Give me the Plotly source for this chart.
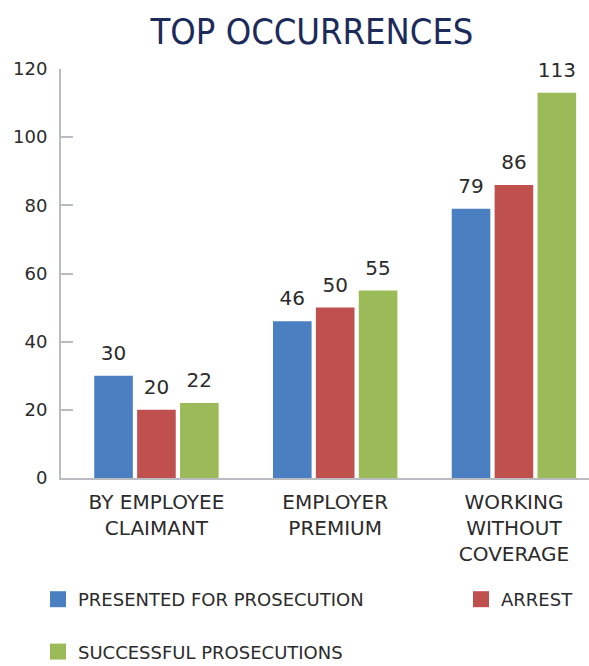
import plotly.graph_objects as go

# ---- data ----
categories = ["BY EMPLOYEE<br>CLAIMANT", "EMPLOYER<br>PREMIUM", "WORKING<br>WITHOUT<br>COVERAGE"]
series_names = ["PRESENTED FOR PROSECUTION", "ARREST", "SUCCESSFUL PROSECUTIONS"]
presented = [30, 46, 79]
arrest = [20, 50, 86]
successful = [22, 55, 113]
y_ticks = [0, 20, 40, 60, 80, 100, 120]
title_text = "TOP OCCURRENCES"

colors = ["#4a80c1", "#c0504d", "#9bbb59"]
legend_ids = ["legend", "legend2", "legend"]
series_values = [presented, arrest, successful]

AXIS_COLOR = "#b9bcc0"
TEXT_COLOR = "#2b2b2b"
FONT = "DejaVu Sans, sans-serif"

fig = go.Figure()

for i, (name, vals, color, lg) in enumerate(zip(series_names, series_values, colors, legend_ids)):
    og = f"g{i}"
    fig.add_trace(go.Bar(
        x=categories, y=vals, name=name, marker=dict(color=color, line=dict(width=0)),
        offsetgroup=og, showlegend=False, hoverinfo="x+y+name",
    ))
    fig.add_trace(go.Scatter(
        x=categories, y=vals, mode="markers+text", text=[str(v) for v in vals],
        textposition="top center", textfont=dict(family=FONT, size=20, color=TEXT_COLOR),
        marker=dict(size=16, opacity=0), offsetgroup=og, showlegend=False,
        hoverinfo="skip", cliponaxis=False,
    ))
    fig.add_trace(go.Scatter(
        x=[None], y=[None], mode="markers", name=name,
        marker=dict(symbol="square", size=16, color=color),
        offsetgroup=og, legend=lg, legendgroup=name, showlegend=True, hoverinfo="skip",
    ))

PLOT_BOTTOM, PLOT_H, PLOT_L, PLOT_W = 478, 409, 61, 528
legend_top = (PLOT_BOTTOM - 581) / PLOT_H

fig.update_layout(
    width=589, height=666,
    margin=dict(l=61, r=0, t=69, b=188, autoexpand=False),
    paper_bgcolor="white", plot_bgcolor="white",
    barmode="group", bargap=0.28, bargroupgap=0.1,
    scattermode="group", scattergap=0.28,
    font=dict(family=FONT, color=TEXT_COLOR),
    title=dict(
        text=title_text, xref="container", x=312 / 589, xanchor="center",
        yref="container", y=1 - 31 / 666, yanchor="middle",
        font=dict(family="DejaVu Sans Condensed, sans-serif", size=36, color="#1c2b5a"),
    ),
    xaxis=dict(
        type="category", range=[-0.534, 2.42],
        showline=True, linecolor=AXIS_COLOR, linewidth=2,
        showgrid=False, zeroline=False, ticks="",
        tickfont=dict(family=FONT, size=20, color=TEXT_COLOR),
        ticklabelstandoff=5, automargin=False,
    ),
    yaxis=dict(
        range=[0, 120], tickvals=y_ticks, ticktext=[str(t) for t in y_ticks],
        showline=True, linecolor=AXIS_COLOR, linewidth=2,
        ticks="inside", ticklen=12, tickwidth=2, tickcolor=AXIS_COLOR,
        showgrid=False, zeroline=False,
        tickfont=dict(family=FONT, size=18, color=TEXT_COLOR),
        ticklabelstandoff=8, automargin=False,
    ),
    legend=dict(
        orientation="v", x=(38 - PLOT_L) / PLOT_W, xanchor="left",
        y=legend_top, yanchor="top",
        font=dict(family=FONT, size=18, color=TEXT_COLOR),
        tracegroupgap=26, bgcolor="rgba(0,0,0,0)",
    ),
    legend2=dict(
        orientation="v", x=(461 - PLOT_L) / PLOT_W, xanchor="left",
        y=legend_top, yanchor="top",
        font=dict(family=FONT, size=18, color=TEXT_COLOR),
        bgcolor="rgba(0,0,0,0)",
    ),
)

fig.write_html("out.html")
